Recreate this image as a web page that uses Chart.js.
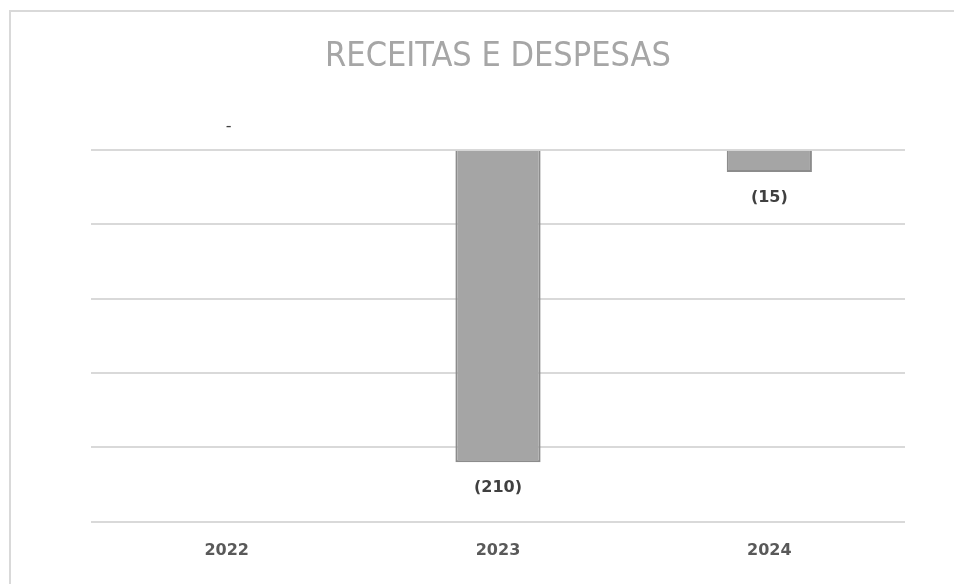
<!DOCTYPE html>
<html>
<head>
<meta charset="utf-8">
<script src="https://cdn.jsdelivr.net/npm/chart.js@4.4.1/dist/chart.umd.min.js"></script>
<style>
  html, body { margin: 0; padding: 0; background: #fff; overflow: hidden; }
  #wrap { position: absolute; left: 0; top: 0; width: 954px; height: 584px; }
</style>
</head>
<body>
<div id="wrap"><canvas id="chart"></canvas></div>
<script>
const years = ['2022', '2023', '2024'];
const resultado = [0, -210, -15];
const yTicks = [0, -50, -100, -150, -200, -250];

// frame line of the original chart box (only top/left edges visible)
const frame = {
    id: 'frame',
    beforeDraw(chart) {
        const ctx = chart.ctx;
        ctx.save();
        ctx.strokeStyle = '#d9d9d9';
        ctx.lineWidth = 2;
        ctx.beginPath();
        ctx.moveTo(10, 584);
        ctx.lineTo(10, 11);
        ctx.lineTo(954, 11);
        ctx.stroke();
        ctx.restore();
    }
};

// data labels like Excel: (210), "-" for zero
const valueLabels = {
    id: 'valueLabels',
    afterDatasetsDraw(chart) {
        const ctx = chart.ctx;
        const meta = chart.getDatasetMeta(0);
        ctx.save();
        ctx.fillStyle = '#404040';
        ctx.textAlign = 'center';
        ctx.textBaseline = 'middle';
        meta.data.forEach((bar, i) => {
            const v = resultado[i];
            if (v === 0) {
                ctx.font = '16px "DejaVu Sans"';
                ctx.fillText('-', bar.x + 2, bar.y - 23);
            } else {
                ctx.font = 'bold 16px "DejaVu Sans"';
                const txt = v < 0 ? '(' + Math.abs(v) + ')' : String(v);
                ctx.fillText(txt, bar.x, v < 0 ? bar.y + 26 : bar.y - 26);
            }
        });
        ctx.restore();
    }
};

new Chart(document.getElementById('chart'), {
    type: 'bar',
    data: {
        labels: years,
        datasets: [{
            label: 'Resultado',
            data: resultado,
            backgroundColor: '#a5a5a5',
            borderColor: '#8c8c8c',
            borderWidth: 2,
            barPercentage: 0.314,
            categoryPercentage: 1
        }]
    },
    options: {
        responsive: true,
        maintainAspectRatio: false,
        animation: false,
        layout: { padding: { left: 91, right: 49, top: 37, bottom: 13 } },
        plugins: {
            legend: { display: false },
            tooltip: { enabled: false },
            title: {
                display: true,
                text: 'RECEITAS E DESPESAS',
                color: '#a6a6a6',
                font: { family: '"Liberation Sans Narrow", "DejaVu Sans Condensed", "Roboto Condensed", sans-serif', size: 34, weight: 'normal' },
                padding: { top: 0, bottom: 72 }
            }
        },
        scales: {
            x: {
                grid: { display: false },
                border: { display: false },
                ticks: {
                    color: '#595959',
                    font: { family: '"DejaVu Sans"', size: 16, weight: 'bold' },
                    padding: 11
                }
            },
            y: {
                min: yTicks[yTicks.length - 1],
                max: yTicks[0],
                afterBuildTicks(axis) {
                    axis.ticks = yTicks.map(v => ({ value: v }));
                },
                grid: { color: '#d9d9d9', lineWidth: 2, drawTicks: false },
                border: { display: false },
                ticks: { display: false }
            }
        }
    },
    plugins: [frame, valueLabels]
});
</script>
</body>
</html>
